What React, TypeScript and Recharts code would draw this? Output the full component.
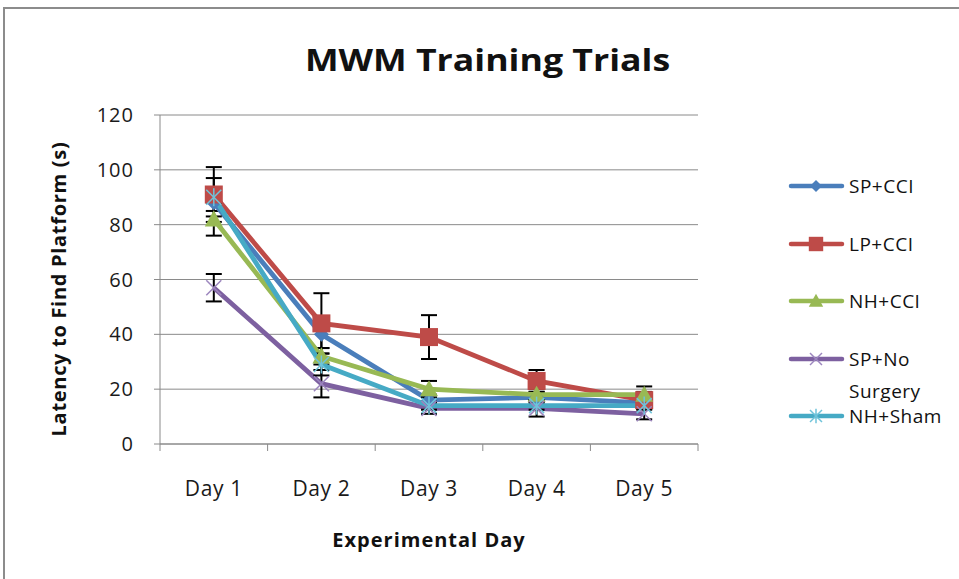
import React from 'react';
import { LineChart, Line, XAxis, YAxis, CartesianGrid, ErrorBar, Legend } from 'recharts';

const days = ['Day 1', 'Day 2', 'Day 3', 'Day 4', 'Day 5'];
const spCci = [88, 40, 16, 17, 15];
const lpCci = [91, 44, 39, 23, 16];
const nhCci = [82, 32, 20, 18, 18];
const spNo = [57, 22, 13, 13, 11];
const nhSham = [90, 29, 14, 14, 14];
const spCciErr = [3, 5, 2, 2, 2];
const lpCciErr = [10, 11, 8, 4, 3];
const nhCciErr = [6, 3, 3, 2, 3];
const spNoErr = [5, 5, 2, 3, 2];
const nhShamErr = [7, 4, 1.5, 1.5, 1.5];
const yTicks = [0, 20, 40, 60, 80, 100, 120];

const data = days.map((d, i) => ({
  day: d,
  spCci: spCci[i], spCciErr: spCciErr[i],
  lpCci: lpCci[i], lpCciErr: lpCciErr[i],
  nhCci: nhCci[i], nhCciErr: nhCciErr[i],
  spNo: spNo[i], spNoErr: spNoErr[i],
  nhSham: nhSham[i], nhShamErr: nhShamErr[i],
}));

const FONT = '"Open Sans", sans-serif';
const C = {
  blue: '#4A7EBB',
  red: '#BE4B48',
  green: '#98B954',
  purple: '#7D60A0',
  cyan: '#46AAC5',
};

type Shape = 'diamond' | 'square' | 'triangle' | 'x' | 'star';

const Marker = ({ cx, cy, shape, color, s = 1 }: { cx: number; cy: number; shape: Shape; color: string; s?: number }) => {
  if (cx == null || cy == null) return null;
  switch (shape) {
    case 'diamond': {
      const r = 7.5 * s;
      return <polygon points={`${cx},${cy - r} ${cx + r},${cy} ${cx},${cy + r} ${cx - r},${cy}`} fill={color} />;
    }
    case 'square': {
      const r = 9 * s;
      return <rect x={cx - r} y={cy - r} width={2 * r} height={2 * r} fill={color} />;
    }
    case 'triangle': {
      const r = 9 * s;
      return <polygon points={`${cx},${cy - r} ${cx + r},${cy + r * 0.8} ${cx - r},${cy + r * 0.8}`} fill={color} />;
    }
    case 'x': {
      const r = 7.5 * s;
      return (
        <g stroke="#9C86BE" strokeWidth={1.5}>
          <line x1={cx - r} y1={cy - r} x2={cx + r} y2={cy + r} />
          <line x1={cx - r} y1={cy + r} x2={cx + r} y2={cy - r} />
        </g>
      );
    }
    case 'star': {
      const r = 7.5 * s;
      return (
        <g stroke="#6FC3DA" strokeWidth={1.5}>
          <line x1={cx - r} y1={cy - r} x2={cx + r} y2={cy + r} />
          <line x1={cx - r} y1={cy + r} x2={cx + r} y2={cy - r} />
          <line x1={cx} y1={cy - r * 1.2} x2={cx} y2={cy + r * 1.2} />
        </g>
      );
    }
  }
  return null;
};

const series: { key: string; name: string; color: string; shape: Shape }[] = [
  { key: 'spCci', name: 'SP+CCI', color: C.blue, shape: 'diamond' },
  { key: 'lpCci', name: 'LP+CCI', color: C.red, shape: 'square' },
  { key: 'nhCci', name: 'NH+CCI', color: C.green, shape: 'triangle' },
  { key: 'spNo', name: 'SP+No Surgery', color: C.purple, shape: 'x' },
  { key: 'nhSham', name: 'NH+Sham', color: C.cyan, shape: 'star' },
];

const XTick = (props: any) => {
  const { x, y, payload, index } = props;
  const half = payload && payload.offset ? payload.offset : 538 / 10;
  const top = 444;
  return (
    <g>
      <line x1={x - half} y1={top} x2={x - half} y2={top + 7} stroke="#8a8a8a" strokeWidth={1} />
      {index === days.length - 1 && (
        <line x1={x + half} y1={top} x2={x + half} y2={top + 7} stroke="#8a8a8a" strokeWidth={1} />
      )}
      <text x={x} y={y} textAnchor="middle" dy="0.71em" fontFamily={FONT} fontSize={21} letterSpacing={0.6} fill="#1a1a1a">
        {payload.value}
      </text>
    </g>
  );
};

const LegendContent = () => (
  <div style={{ fontFamily: FONT, fontSize: 19, letterSpacing: 0.5, color: '#111' }}>
    {series.map((s) => (
      <div key={s.key} style={{ height: 57.5, display: 'flex', alignItems: 'flex-start' }}>
        <svg width={61} height={32} style={{ flex: 'none' }}>
          <line x1={3} y1={16} x2={54} y2={16} stroke={s.color} strokeWidth={4.5} strokeLinecap="round" />
          <Marker cx={28} cy={16} shape={s.shape} color={s.color} s={0.8} />
        </svg>
        <div style={{ width: 100, lineHeight: '32px' }}>{s.name}</div>
      </div>
    ))}
  </div>
);

export default function App() {
  return (
    <div style={{ position: 'absolute', left: 0, top: 0, width: 959, height: 579, overflow: 'hidden', background: '#fff' }}>
      <div style={{ position: 'absolute', left: 3, top: 7, width: 1000, height: 700, borderTop: '2px solid #8c8c8c', borderLeft: '2px solid #8c8c8c' }} />
      <div style={{ position: 'absolute', left: 0, top: 38, width: 975, textAlign: 'center', fontFamily: FONT, fontWeight: 700, fontSize: 31, color: '#111', transform: 'scaleX(1.15)', transformOrigin: '487px 0' }}>
        MWM Training Trials
      </div>
      <div style={{ position: 'absolute', left: 0, top: 0 }}>
        <LineChart width={959} height={579} data={data} margin={{ top: 115, right: 82, bottom: 0, left: 0 }}>
          <CartesianGrid vertical={false} stroke="#8a8a8a" strokeWidth={1} />
          <XAxis
            dataKey="day"
            scale="band"
            height={135}
            stroke="#8a8a8a"
            tickLine={false}
            tick={<XTick />}
            tickMargin={30}
            tickSize={7}
            label={{
              content: () => (
                <text x={429} y={547} textAnchor="middle" fontFamily={FONT} fontWeight={700} fontSize={20} letterSpacing={1} fill="#111">
                  Experimental Day
                </text>
              ),
            }}
          />
          <YAxis
            width={160}
            domain={[0, 120]}
            ticks={yTicks}
            interval={0}
            stroke="#8a8a8a"
            tickSize={6}
            tickMargin={20}
            tickLine={{ stroke: '#8a8a8a' }}
            tick={{ fontFamily: FONT, fontSize: 20, letterSpacing: 1, fill: '#1a1a1a' }}
            label={{
              content: () => (
                <text x={66} y={289} transform="rotate(-90 66 289)" textAnchor="middle" fontFamily={FONT} fontWeight={700} fontSize={20} letterSpacing={0.7} fill="#111">
                  Latency to Find Platform (s)
                </text>
              ),
            }}
          />
          <Legend
            layout="vertical"
            align="right"
            verticalAlign="top"
            content={<LegendContent />}
            wrapperStyle={{ position: 'absolute', left: 788, top: 170, width: 179 }}
          />
          {series.map((s) => (
            <Line
              key={s.key}
              dataKey={s.key}
              name={s.name}
              stroke={s.color}
              strokeWidth={4.8}
              isAnimationActive={false}
              dot={(p: any) => <Marker key={`${s.key}-${p.index}`} cx={p.cx} cy={p.cy} shape={s.shape} color={s.color} />}
              activeDot={false}
            >
              <ErrorBar dataKey={`${s.key}Err`} width={8} strokeWidth={2} stroke="#000" direction="y" isAnimationActive={false} />
            </Line>
          ))}
        </LineChart>
      </div>
    </div>
  );
}
